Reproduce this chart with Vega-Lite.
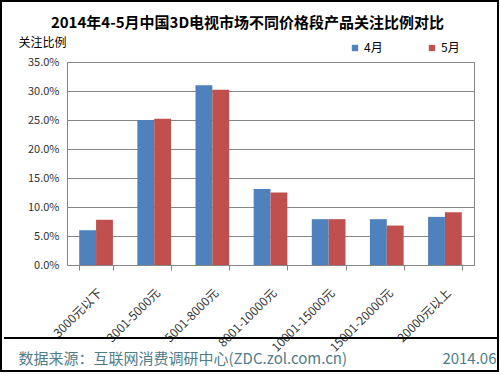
{
  "$schema": "https://vega.github.io/schema/vega-lite/v6.json",
  "width": 407,
  "height": 203,
  "autosize": "none",
  "padding": {"left": 67, "top": 62, "right": 26, "bottom": 110},
  "background": "white",
  "title": {
    "text": "2014年4-5月中国3D电视市场不同价格段产品关注比例对比",
    "font": "Noto Sans CJK SC",
    "fontSize": 15,
    "fontWeight": "bold",
    "color": "#000000",
    "anchor": "middle",
    "dx": -23,
    "dy": 31,
    "offset": 0
  },
  "config": {
    "font": "Noto Sans CJK SC",
    "view": {"stroke": "#868686", "strokeWidth": 1}
  },
  "data": {
    "values": [
      {"price": "3000元以下", "month": "4月", "value": 0.060},
      {"price": "3000元以下", "month": "5月", "value": 0.078},
      {"price": "3001-5000元", "month": "4月", "value": 0.250},
      {"price": "3001-5000元", "month": "5月", "value": 0.252},
      {"price": "5001-8000元", "month": "4月", "value": 0.310},
      {"price": "5001-8000元", "month": "5月", "value": 0.302},
      {"price": "8001-10000元", "month": "4月", "value": 0.131},
      {"price": "8001-10000元", "month": "5月", "value": 0.125},
      {"price": "10001-15000元", "month": "4月", "value": 0.079},
      {"price": "10001-15000元", "month": "5月", "value": 0.079},
      {"price": "15001-20000元", "month": "4月", "value": 0.079},
      {"price": "15001-20000元", "month": "5月", "value": 0.068},
      {"price": "20000元以上", "month": "4月", "value": 0.083},
      {"price": "20000元以上", "month": "5月", "value": 0.091}
    ]
  },
  "layer": [
    {
      "mark": {"type": "bar"},
      "encoding": {
        "x": {
          "field": "price",
          "type": "nominal",
          "sort": null,
          "scale": {"paddingInner": 0.42, "paddingOuter": 0.21},
          "axis": {
            "labelAngle": -45,
            "labelFontSize": 12,
            "labelColor": "#333333",
            "labelPadding": 17,
            "tickBand": "extent",
            "tickSize": 5,
            "tickColor": "#868686",
            "domainColor": "#868686",
            "title": "数据来源：互联网消费调研中心(ZDC.zol.com.cn)",
            "titleFontSize": 15,
            "titleFontWeight": "normal",
            "titleColor": "#4F7D8A",
            "titleAlign": "left",
            "titleAnchor": "start",
            "titleBaseline": "alphabetic",
            "titleAngle": 0,
            "titleX": -49,
            "titleY": 98
          }
        },
        "xOffset": {"field": "month", "type": "nominal", "sort": ["4月", "5月"]},
        "y": {
          "field": "value",
          "type": "quantitative",
          "scale": {"domain": [0, 0.35], "nice": false},
          "axis": {
            "values": [0, 0.05, 0.1, 0.15, 0.2, 0.25, 0.3, 0.35],
            "labelOverlap": false,
            "format": ".1%",
            "labelFontSize": 11,
            "labelColor": "#333333",
            "labelPadding": 8,
            "ticks": false,
            "domainColor": "#868686",
            "gridColor": "#868686",
            "title": "关注比例",
            "titleFontSize": 12,
            "titleFontWeight": "normal",
            "titleColor": "#000000",
            "titleAngle": 0,
            "titleAlign": "left",
            "titleBaseline": "alphabetic",
            "titleX": -49,
            "titleY": -16
          }
        },
        "color": {
          "field": "month",
          "type": "nominal",
          "scale": {"domain": ["4月", "5月"], "range": ["#4F81BD", "#C0504D"]},
          "legend": {
            "orient": "none",
            "legendX": 282,
            "legendY": -20,
            "direction": "horizontal",
            "title": null,
            "symbolType": "square",
            "symbolSize": 40,
            "symbolStrokeWidth": 0,
            "labelFontSize": 12,
            "labelColor": "#000000",
            "labelOffset": 3,
            "columnPadding": 43
          }
        }
      }
    },
    {
      "mark": {"type": "rule", "color": "#000000", "strokeWidth": 1.5},
      "encoding": {
        "x": {
          "datum": 0.008,
          "type": "quantitative",
          "scale": {"domain": [0, 1], "range": [-67, 433]},
          "axis": {
            "orient": "bottom",
            "offset": 73,
            "domain": false,
            "ticks": false,
            "labels": false,
            "grid": false,
            "title": "2014.06",
            "titleFontSize": 15,
            "titleFontWeight": "normal",
            "titleColor": "#4F7D8A",
            "titleAlign": "right",
            "titleBaseline": "alphabetic",
            "titleX": 429,
            "titleY": 25
          }
        },
        "x2": {"datum": 0.994},
        "y": {
          "datum": -0.1259,
          "type": "quantitative",
          "scale": {"domain": [0, 0.35], "nice": false},
          "axis": null
        }
      }
    },
    {
      "mark": {"type": "rect", "filled": false, "stroke": "#000000", "strokeWidth": 2},
      "encoding": {
        "x": {
          "datum": 0.002,
          "type": "quantitative",
          "scale": {"domain": [0, 1], "range": [-67, 433]},
          "axis": null
        },
        "x2": {"datum": 0.996},
        "y": {
          "datum": 0.4552,
          "type": "quantitative",
          "scale": {"domain": [0, 0.35], "nice": false},
          "axis": null
        },
        "y2": {"datum": -0.1828}
      }
    }
  ],
  "resolve": {
    "scale": {"x": "independent", "y": "independent"},
    "axis": {"x": "independent", "y": "independent"}
  }
}
